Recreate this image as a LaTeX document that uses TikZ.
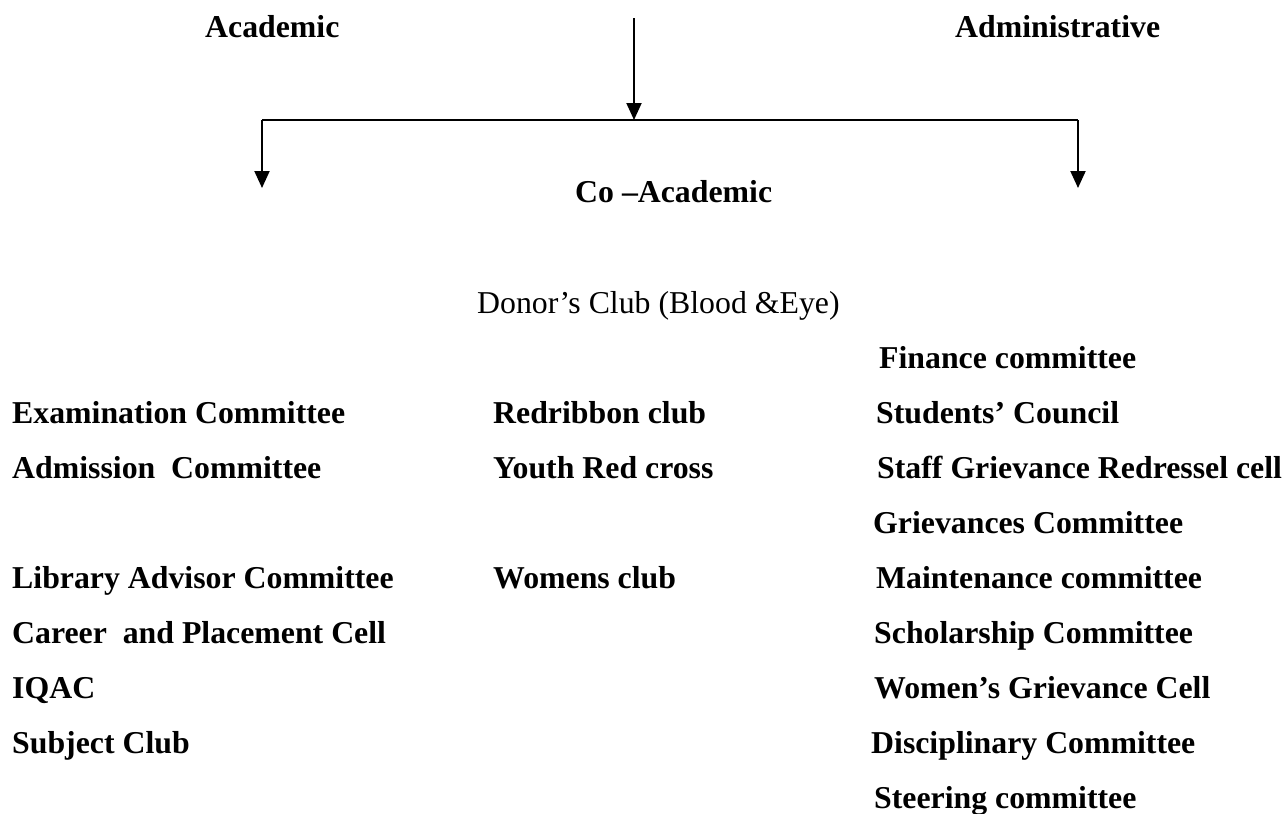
\documentclass[tikz,border=0pt]{standalone}
\usepackage{fontspec}
\setmainfont{Liberation Serif}
\usetikzlibrary{arrows.meta}
\tikzset{
  every picture/.style={line join=round, >={Triangle[length=17pt,width=15pt]}},
  head/.style={anchor=base west, inner sep=0pt, font=\fontsize{31.8}{38}\selectfont\bfseries},
  item/.style={anchor=base west, inner sep=0pt, font=\fontsize{31.8}{38}\selectfont\bfseries},
  plainitem/.style={anchor=base west, inner sep=0pt, font=\fontsize{31.8}{38}\selectfont},
  link/.style={line width=2pt},
}

\begin{document}
\begin{tikzpicture}[x=1pt,y=-1pt]
\useasboundingbox (0,0) rectangle (1288,814);
% the three branches
\node[head] (acad) at (205,37) {Academic};
\node[head] (admin) at (955,37) {Administrative};
\node[head] (coacad) at (575,202) {Co \textendash Academic};
\coordinate (top) at (634,18);
\coordinate (mid) at (634,120);
\coordinate (lft) at (262,120);
\coordinate (rgt) at (1078,120);
\coordinate (lend) at (262,188);
\coordinate (rend) at (1078,188);
\draw[link,->] (top) -- (mid);
\draw[link] (lft) -- (rgt);
\draw[link,->] (lft) -- (lend);
\draw[link,->] (rgt) -- (rend);
% co-academic
\node[plainitem] (donor) at (477,313) {Donor's Club (Blood \&Eye)};
\node[item] (red) at (493,423) {Redribbon club};
\node[item] (youth) at (493,478) {Youth Red cross};
\node[item] (women) at (493,588) {Womens club};
% academic
\node[item] (exam) at (12,423) {Examination Committee};
\node[item] (adm) at (12,478) {Admission~ Committee};
\node[item] (lib) at (12,588) {Library Advisor Committee};
\node[item] (career) at (12,643) {Career~ and Placement Cell};
\node[item] (iqac) at (12,698) {IQAC};
\node[item] (subj) at (12,753) {Subject Club};
% administrative
\node[item] (fin) at (879,368) {Finance committee};
\node[item] (stud) at (876,423) {Students' Council};
\node[item] (staff) at (877,478) {Staff Grievance Redressel cell};
\node[item] (griev) at (873,533) {Grievances Committee};
\node[item] (maint) at (876,588) {Maintenance committee};
\node[item] (schol) at (874,643) {Scholarship Committee};
\node[item] (wgc) at (874,698) {Women's Grievance Cell};
\node[item] (disc) at (871,753) {Disciplinary Committee};
\node[item] (steer) at (874,808) {Steering committee};
\end{tikzpicture}
\end{document}
